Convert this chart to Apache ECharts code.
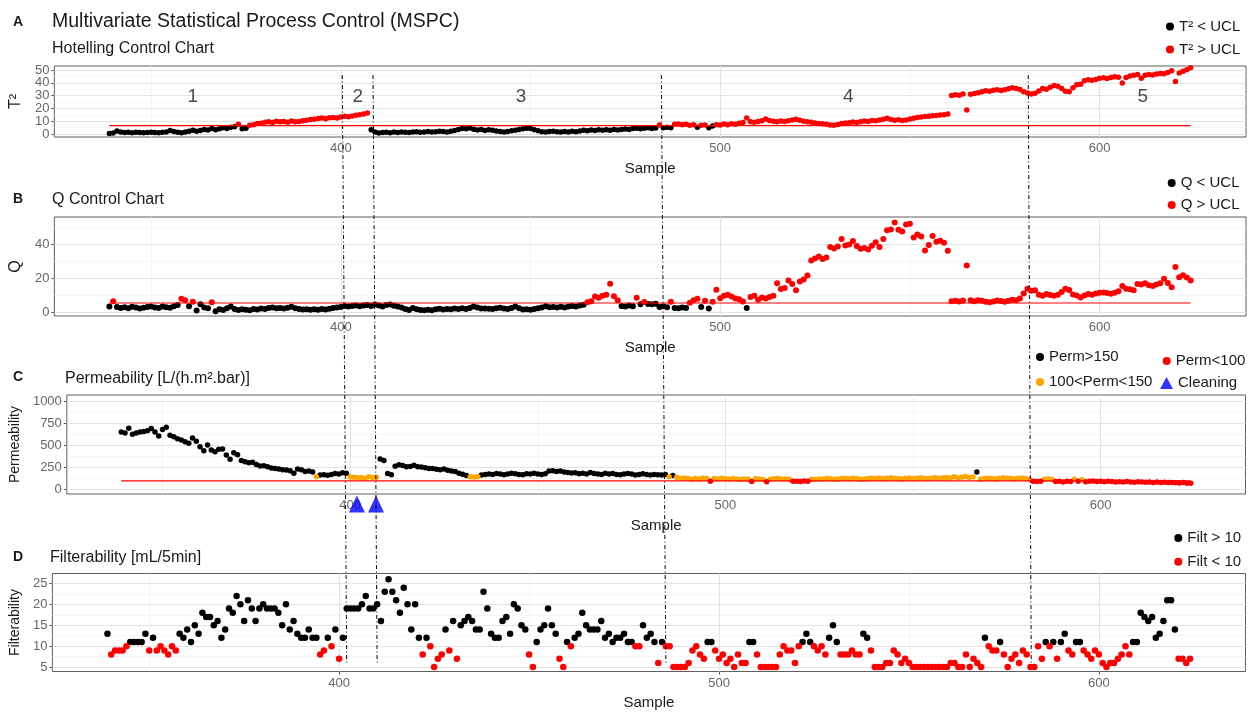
<!DOCTYPE html>
<html>
<head>
<meta charset="utf-8">
<script src="https://cdn.jsdelivr.net/npm/echarts@6/dist/echarts.min.js"></script>
<style>
html,body{margin:0;padding:0;background:#fff;}
#chart{width:1249px;height:712px;}
</style>
</head>
<body>
<div id="chart"></div>
<script>
// ---- data: one value per sample, starting at firstSample ----
const firstSample = 339;

const t2Values = [
0.4,0.8,2.4,1.6,1.2,1.4,1.0,1.3,1.1,0.9,
1.2,1.4,1.1,1.0,1.3,1.6,2.8,2.0,1.3,1.0,
1.6,2.1,3.0,2.2,2.8,3.6,3.1,4.2,3.4,4.0,
4.8,4.3,5.2,5.6,7.6,4.1,4.4,6.8,7.3,8.1,
8.4,9.2,9.6,9.0,10.0,9.5,9.8,9.2,10.2,9.6,
9.8,10.4,10.8,11.3,11.6,12.1,12.5,12.0,12.7,12.9,
12.5,13.3,13.9,13.4,14.0,14.6,15.0,15.6,16.4,3.3,
1.6,0.7,1.1,1.4,1.0,1.5,1.2,1.6,1.3,1.1,
1.5,1.7,1.3,1.6,2.0,1.5,1.8,2.2,2.0,1.6,
2.2,2.8,3.5,4.2,4.0,4.6,3.8,3.2,3.6,2.8,
3.4,2.9,2.3,2.0,1.6,1.9,2.6,3.0,3.6,4.0,
4.5,4.2,3.4,2.5,1.8,1.5,1.9,2.2,1.7,1.5,
2.0,1.6,2.1,1.8,2.4,2.9,2.6,3.1,2.8,3.3,
3.0,3.4,3.0,3.6,3.2,3.5,3.9,3.6,4.2,4.4,
4.0,4.5,4.8,4.3,4.6,7.0,4.8,5.3,4.9,7.6,
7.9,7.3,7.6,6.9,7.2,5.2,6.9,7.1,4.8,6.2,
7.3,7.0,7.8,7.2,8.0,7.6,8.3,9.0,12.4,9.5,
9.2,9.8,10.3,11.8,10.6,9.9,9.6,10.2,9.8,10.4,
10.9,11.6,10.8,10.0,9.6,9.2,8.6,8.2,8.0,7.6,
7.0,6.8,7.5,8.2,8.5,8.8,9.3,9.0,9.6,10.1,
9.8,10.6,10.3,11.0,11.5,12.2,11.4,10.8,11.2,10.6,
11.0,11.8,12.3,12.8,13.2,13.6,13.9,14.2,14.5,14.8,
15.1,15.6,30.0,30.6,30.3,31.2,18.8,31.0,31.6,32.2,
33.0,33.8,33.4,34.2,34.6,34.0,34.5,35.4,36.2,35.6,
34.8,33.0,32.0,31.2,31.8,33.6,35.6,35.0,36.6,37.8,
37.2,35.6,33.4,33.0,36.2,38.4,38.8,41.5,42.4,42.0,
42.6,43.6,44.0,43.4,44.2,44.8,44.4,39.8,44.2,45.2,
45.8,46.4,43.6,45.8,46.4,46.0,46.8,47.2,47.0,48.0,
49.4,41.0,47.6,49.0,50.2,51.8
];

const qValues = [
3.3,6.4,3.0,2.4,2.8,2.2,3.1,2.6,2.0,2.5,
2.9,3.3,2.7,2.3,3.2,2.8,2.5,3.4,4.1,7.8,
7.0,3.4,6.1,0.9,4.6,2.6,2.2,5.8,0.5,1.6,
1.2,2.2,3.3,1.8,1.2,1.6,1.4,1.1,1.8,1.5,
2.0,1.7,2.3,2.6,2.2,2.4,2.0,2.5,3.1,2.2,
1.8,1.5,1.6,1.3,1.6,1.4,1.8,1.5,1.9,2.3,
2.6,2.9,3.5,3.2,3.6,3.9,3.4,3.8,4.2,3.6,
4.4,3.9,3.2,4.1,4.5,3.7,3.2,2.6,1.8,1.2,
2.4,1.6,1.2,1.0,1.4,1.1,1.6,1.9,1.5,1.8,
1.6,2.0,1.7,2.2,1.8,2.4,3.3,2.6,2.0,2.1,
1.9,1.7,2.2,2.5,2.0,1.8,2.3,3.2,2.2,1.5,
1.6,1.3,1.8,2.2,2.7,3.4,2.8,3.0,2.6,3.1,
2.7,3.3,3.6,3.2,3.9,4.3,5.8,6.4,9.2,8.4,
9.6,10.2,16.7,9.3,7.0,3.5,3.2,3.8,3.4,8.4,
4.6,5.9,4.8,4.6,4.9,3.0,3.4,2.8,6.0,2.4,
2.2,2.6,2.3,5.5,6.9,7.9,3.0,6.6,2.1,6.0,
13.2,8.2,9.6,10.2,9.1,8.0,7.6,6.2,2.4,8.8,
9.6,7.2,8.6,8.0,8.9,9.6,17.0,13.6,14.2,18.6,
16.6,12.8,18.0,19.2,21.6,30.4,31.6,32.8,31.4,32.2,
38.4,37.6,38.8,43.2,39.4,40.0,42.0,39.0,37.4,37.8,
37.0,39.2,41.3,38.4,43.2,48.4,48.8,53.0,48.6,47.6,
51.8,52.2,44.0,45.8,44.6,36.4,39.6,45.0,41.6,42.2,
41.0,36.2,6.4,6.6,6.2,6.8,27.5,6.9,6.4,7.0,
6.6,6.0,5.8,6.2,6.8,6.5,6.0,6.6,7.2,7.0,
8.0,11.0,13.8,12.6,12.8,10.2,9.6,10.6,10.0,9.6,
10.2,11.8,13.8,13.0,10.4,9.8,8.6,9.8,10.6,10.2,
11.0,11.4,11.6,11.2,10.8,11.4,12.2,15.4,13.8,13.4,
12.8,16.6,16.2,17.0,15.8,15.4,16.2,17.0,19.6,17.2,
14.6,26.6,20.6,21.8,20.4,18.6
];

const permValues = [
650,640,692,625,640,650,655,665,690,650,
605,680,705,615,598,575,560,540,523,583,
545,485,440,504,447,428,455,460,391,342,
417,395,330,316,305,310,285,267,270,258,
245,238,232,226,222,215,185,232,226,205,
210,200,146,165,168,162,170,184,178,190,
186,142,140,135,138,130,145,138,140,345,
330,184,168,265,280,272,258,262,275,260,
255,248,240,238,230,225,232,220,210,205,
185,175,160,145,142,146,165,170,178,172,
182,176,168,178,186,180,172,168,180,176,
185,178,172,180,210,215,205,212,200,195,
188,192,180,185,176,195,182,178,170,186,
178,182,172,168,178,184,176,165,172,180,
170,165,172,168,165,170,145,160,140,128,
132,125,118,126,122,130,128,95,125,120,
128,124,118,126,120,115,122,118,92,124,
120,116,90,118,124,126,120,122,118,96,
94,92,98,95,118,115,122,120,126,124,
118,122,125,128,124,130,126,118,122,126,
130,126,132,124,128,135,130,126,122,128,
132,126,130,134,128,126,132,136,130,134,
138,132,145,136,140,148,138,142,200,118,
126,130,125,122,128,134,130,128,124,128,
132,125,118,95,92,96,118,122,115,92,
96,88,94,92,118,96,112,90,96,98,
92,96,90,94,92,88,90,86,92,88,
85,90,86,84,88,82,86,80,84,82,
80,78,76,80,74,72
];

const filtValues = [
13,8,9,9,9,10,11,11,11,11,
13,9,12,9,10,9,8,10,9,13,
12,14,11,15,13,18,17,17,15,16,
12,14,19,18,22,20,16,21,19,16,
19,20,19,19,19,18,15,20,14,16,
13,12,12,14,12,12,8,9,12,10,
14,7,12,19,19,19,19,20,22,19,
19,20,16,23,26,23,21,18,24,20,
14,20,12,8,12,10,5,7,8,14,
9,16,7,15,16,17,16,14,14,23,
19,13,12,12,16,17,13,20,19,15,
14,8,5,11,14,15,19,15,13,7,
5,11,10,12,13,18,15,14,14,14,
16,12,13,11,12,12,13,11,11,10,
10,15,12,13,11,6,11,10,10,5,
5,5,5,6,9,10,8,7,11,11,
9,7,8,6,7,5,8,6,6,11,
11,8,5,5,5,5,5,8,10,9,
9,6,10,11,13,11,10,9,10,8,
12,15,11,8,8,8,9,8,8,13,
12,9,5,5,5,6,6,9,8,6,
7,6,5,5,5,5,5,5,5,5,
5,5,6,6,5,5,8,5,7,6,
5,12,10,9,9,11,8,5,7,8,
6,9,8,5,5,10,7,11,10,11,
7,11,13,9,8,11,11,9,8,7,
9,8,6,5,6,6,7,8,10,8,
11,11,18,17,16,17,12,13,16,21,
21,14,7,7,6,7
];

// control limits
const t2Ucl = 6.5;
const qUcl = 5.3;
const permLow = 100;
const permHigh = 150;
const filtLimit = 10;

// process phases and membrane cleanings
const phaseLabels = ['1', '2', '3', '4', '5'];
const phaseSamples = [361, 404.5, 447.5, 533.8, 611.4];
const phaseLabelLevel = 29;
const cleaningSamples = [401.8, 406.9];
const cleaningLevel = -160;
// phase boundaries, as placed at the top (T² panel) and bottom (filterability panel)
const boundaryTop = [400.4, 408.5, 484.5, 581.2];
const boundaryBottom = [402.0, 410.0, 486.0, 582.2];
const boundaryTopLevel = 46;
const boundaryBottomLevel = 5.5;

// axis breaks
const sampleRange = [324.5, 638.6];
const xTicks = [400, 500, 600];
const xMinor = [350, 450, 550];
const t2Ticks = [0, 10, 20, 30, 40, 50];
const t2Minor = [5, 15, 25, 35, 45];
const qTicks = [0, 20, 40];
const qMinor = [10, 30, 50];
const permTicks = [0, 250, 500, 750, 1000];
const permMinor = [125, 375, 625, 875];
const filtTicks = [5, 10, 15, 20, 25];
const filtMinor = [7.5, 12.5, 17.5, 22.5];

// ---- helpers ----
const fontFamily = '"Liberation Sans", Arial, sans-serif';
const lastSample = firstSample + t2Values.length - 1;
const toPoints = (vals, keep) => vals.map((v, i) => [firstSample + i, v]).filter(p => keep(p[1]));

const grids = [
  { left: 52, top: 66, width: 1194, height: 71 },
  { left: 52, top: 217, width: 1194, height: 99 },
  { left: 64, top: 395, width: 1181.5, height: 99 },
  { left: 49, top: 573.5, width: 1196.5, height: 98 }
].map(g => Object.assign({ show: true, borderColor: '#5e5e5e', borderWidth: 1, backgroundColor: '#fff', containLabel: false }, g));

const tickLabelStyle = { fontSize: 13, color: '#666666', fontFamily: fontFamily, formatter: v => String(v) };

function xAxisFor(idx) {
  return {
    type: 'value', gridIndex: idx, min: sampleRange[0], max: sampleRange[1], splitNumber: 3,
    axisLine: { show: false }, splitLine: { show: false },
    axisTick: { show: true, length: 3, lineStyle: { color: '#555' }, customValues: xTicks },
    axisLabel: Object.assign({ margin: 5, customValues: xTicks }, tickLabelStyle),
    name: 'Sample', nameLocation: 'middle', nameGap: 24,
    nameTextStyle: { fontSize: 15, color: '#1a1a1a', fontFamily: fontFamily }
  };
}

function yAxisFor(idx, min, max, ticks, name, nameSize, nameGap) {
  return {
    type: 'value', gridIndex: idx, min: min, max: max,
    axisLine: { show: false }, splitLine: { show: false },
    axisTick: { show: true, length: 3, lineStyle: { color: '#555' }, customValues: ticks },
    axisLabel: Object.assign({ margin: 5, customValues: ticks }, tickLabelStyle),
    name: name, nameLocation: 'middle', nameGap: nameGap, nameRotate: 90,
    nameTextStyle: { fontSize: nameSize, color: '#1a1a1a', fontFamily: fontFamily }
  };
}

function gridLines(idx, yMajor, yMinor) {
  const major = { color: '#e3e3e3', width: 1, type: 'solid' };
  const minor = { color: '#f2f2f2', width: 0.8, type: 'solid' };
  const data = [].concat(
    xMinor.map(v => ({ xAxis: v, lineStyle: minor })),
    yMinor.map(v => ({ yAxis: v, lineStyle: minor })),
    xTicks.map(v => ({ xAxis: v, lineStyle: major })),
    yMajor.map(v => ({ yAxis: v, lineStyle: major }))
  );
  return {
    type: 'scatter', xAxisIndex: idx, yAxisIndex: idx, data: [], silent: true, z: 1,
    markLine: { silent: true, z: 1, symbol: ['none', 'none'], animation: false, label: { show: false }, data: data }
  };
}

function points(name, idx, data, color, size) {
  return {
    name: name, type: 'scatter', xAxisIndex: idx, yAxisIndex: idx, data: data,
    symbol: 'circle', symbolSize: size, itemStyle: { color: color, opacity: 1 }, z: 3, silent: true
  };
}

function limitLine(idx, level) {
  return {
    type: 'line', xAxisIndex: idx, yAxisIndex: idx, silent: true, z: 4,
    data: [[firstSample, level], [lastSample, level]],
    symbol: 'none', lineStyle: { color: '#ff0000', width: 1.1 }
  };
}

const legendBase = {
  orient: 'vertical', padding: 0, itemWidth: 8, itemHeight: 8, itemGap: 7, selectedMode: false,
  textStyle: { fontSize: 15, color: '#1a1a1a', fontFamily: fontFamily, lineHeight: 16 }
};
const circle = n => ({ name: n, icon: 'circle' });

const chart = echarts.init(document.getElementById('chart'), null, { renderer: 'canvas' });

const titleStyle = (size, weight) => ({ fontSize: size, fontWeight: weight, color: '#1a1a1a', fontFamily: fontFamily });

chart.setOption({
  animation: false,
  backgroundColor: '#ffffff',
  textStyle: { fontFamily: fontFamily },
  title: [
    { text: 'A', left: 13, top: 15.6, padding: 0, textStyle: titleStyle(14, 'bold') },
    { text: 'Multivariate Statistical Process Control (MSPC)', left: 52, top: 12, padding: 0, textStyle: titleStyle(19.5, 'normal') },
    { text: 'Hotelling Control Chart', left: 52, top: 40.5, padding: 0, textStyle: titleStyle(16, 'normal') },
    { text: 'B', left: 13, top: 192.3, padding: 0, textStyle: titleStyle(14, 'bold') },
    { text: 'Q Control Chart', left: 52, top: 192, padding: 0, textStyle: titleStyle(16, 'normal') },
    { text: 'C', left: 13, top: 370.6, padding: 0, textStyle: titleStyle(14, 'bold') },
    { text: 'Permeability [L/(h.m².bar)]', left: 65, top: 370.5, padding: 0, textStyle: titleStyle(16, 'normal') },
    { text: 'D', left: 13, top: 549.8, padding: 0, textStyle: titleStyle(14, 'bold') },
    { text: 'Filterability [mL/5min]', left: 50, top: 549.5, padding: 0, textStyle: titleStyle(16, 'normal') }
  ],
  legend: [
    Object.assign({}, legendBase, { left: 1166, top: 18.5, data: [circle('T² < UCL'), circle('T² > UCL')] }),
    Object.assign({}, legendBase, { left: 1167.7, top: 175, itemGap: 6, data: [circle('Q < UCL'), circle('Q > UCL')] }),
    Object.assign({}, legendBase, { left: 1036, top: 349, itemGap: 9, data: [circle('Perm>150'), circle('100<Perm<150')] }),
    Object.assign({}, legendBase, { left: 1162.7, top: 353, data: [circle('Perm<100')] }),
    Object.assign({}, legendBase, { left: 1160, top: 375, itemWidth: 13, itemHeight: 12, data: [{ name: 'Cleaning', icon: 'triangle' }] }),
    Object.assign({}, legendBase, { left: 1174.3, top: 530, itemGap: 7.7, data: [circle('Filt > 10'), circle('Filt < 10')] })
  ],
  grid: grids,
  xAxis: [xAxisFor(0), xAxisFor(1), xAxisFor(2), xAxisFor(3)],
  yAxis: [
    yAxisFor(0, -2.35, 53.1, t2Ticks, 'T²', 16, 19),
    yAxisFor(1, -2.37, 56.2, qTicks, 'Q', 16, 16),
    yAxisFor(2, -48.5, 1067.6, permTicks, 'Permeability', 14, 31),
    yAxisFor(3, 3.95, 27.38, filtTicks, 'Filterability', 14, 18)
  ],
  series: [
    // A: Hotelling T²
    gridLines(0, t2Ticks, t2Minor),
    points('T² < UCL', 0, toPoints(t2Values, v => v <= t2Ucl), '#000000', 5.5),
    points('T² > UCL', 0, toPoints(t2Values, v => v > t2Ucl), '#ff0000', 5.5),
    limitLine(0, t2Ucl),
    {
      type: 'scatter', xAxisIndex: 0, yAxisIndex: 0, silent: true, z: 5, symbolSize: 0,
      data: phaseLabels.map((t, i) => [phaseSamples[i], phaseLabelLevel, t]),
      label: { show: true, position: 'inside', formatter: p => p.data[2], fontSize: 19, color: '#1a1a1a', fontFamily: fontFamily }
    },
    // B: Q statistic
    gridLines(1, qTicks, qMinor),
    points('Q < UCL', 1, toPoints(qValues, v => v <= qUcl), '#000000', 6),
    points('Q > UCL', 1, toPoints(qValues, v => v > qUcl), '#ff0000', 6),
    limitLine(1, qUcl),
    // C: permeability
    gridLines(2, permTicks, permMinor),
    points('Perm>150', 2, toPoints(permValues, v => v > permHigh), '#000000', 5.5),
    points('100<Perm<150', 2, toPoints(permValues, v => v >= permLow && v <= permHigh), '#ffa500', 5.5),
    points('Perm<100', 2, toPoints(permValues, v => v < permLow), '#ff0000', 5.5),
    limitLine(2, permLow),
    {
      name: 'Cleaning', type: 'scatter', xAxisIndex: 2, yAxisIndex: 2, silent: true, clip: false, z: 6,
      symbol: 'triangle', symbolSize: [16, 17], itemStyle: { color: '#0000ff' },
      data: cleaningSamples.map(s => [s, cleaningLevel])
    },
    // D: filterability
    gridLines(3, filtTicks, filtMinor),
    points('Filt > 10', 3, toPoints(filtValues, v => v > filtLimit), '#000000', 6.5),
    points('Filt < 10', 3, toPoints(filtValues, v => v <= filtLimit), '#ff0000', 6.5)
  ]
});

// phase boundaries run through all four panels
const boundaries = boundaryTop.map((s, k) => {
  const p1 = chart.convertToPixel({ gridIndex: 0 }, [s, boundaryTopLevel]);
  const p2 = chart.convertToPixel({ gridIndex: 3 }, [boundaryBottom[k], boundaryBottomLevel]);
  return {
    type: 'line', silent: true, z: 100,
    shape: { x1: p1[0], y1: p1[1], x2: p2[0], y2: p2[1] },
    style: { stroke: '#000000', lineWidth: 1, lineDash: [4, 2.5, 1, 2.5] }
  };
});
chart.setOption({ graphic: boundaries });
</script>
</body>
</html>
